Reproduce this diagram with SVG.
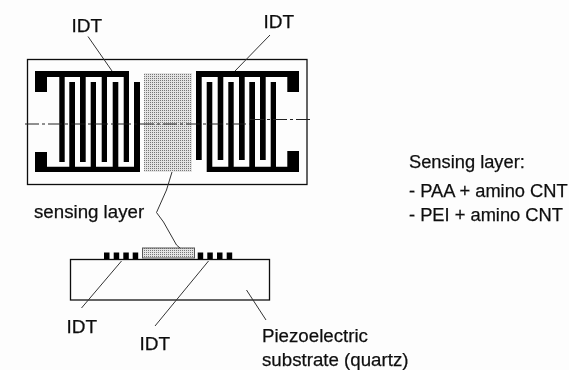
<svg xmlns="http://www.w3.org/2000/svg" width="569" height="370" viewBox="0 0 569 370">
<style>
text{font-family:"Liberation Sans",Arial,sans-serif;fill:#111;stroke:#111;stroke-width:.25}
.l{font-size:19px}
.m{font-size:18.700px}
.s{font-size:18.300px}
.e{fill:#000}
.o{fill:none;stroke:#111;stroke-width:1.300}
.c{fill:none;stroke:#333;stroke-width:1}
.d{fill:none;stroke:#222;stroke-width:1;stroke-dasharray:14 3 3 3}
</style>
<defs>
<pattern id="dots" width="2" height="2" patternUnits="userSpaceOnUse"><rect width="2" height="2" fill="#e4e4e4"/><rect width="1" height="1" fill="#777"/></pattern>
<filter id="soft" x="0" y="0" width="1" height="1"><feGaussianBlur stdDeviation="0.35"/></filter>
</defs>
<rect width="569" height="370" fill="#fdfdfd"/>
<g filter="url(#soft)">
<g id="chip-top"><rect class="o" x="27.500" y="59.500" width="279.500" height="125"/></g>
<g id="sensing-area"><rect x="144" y="73" width="48" height="99" fill="url(#dots)"/></g>
<g id="idt-left">
<path class="e" d="M35 71H129V162H123.700V77H107V162H101.700V77H85.700V162H80V77H64.700V162H59.300V77H47V92H35Z"/>
<path class="e" d="M35 152H47V166.700H69.300V82H75V166.700H90.700V82H96V166.700H112.700V82H118.300V166.700H134V82H140V172H35Z"/>
</g>
<g id="idt-right">
<path class="e" d="M196 71H299V92H287.300V77H265.700V160H260V77H244.700V160H239V77H223.300V160H217.700V77H201.700V160H196Z"/>
<path class="e" d="M206.700 82H212.300V166.700H228.300V82H233.700V166.700H249.300V82H255V166.700H270.700V82H276V166.700H287.300V151H299V172H206.700Z"/>
</g>
<g id="substrate"><rect class="o" x="70.500" y="259.500" width="199" height="40.500" fill="#fdfdfd"/></g>
<g id="side-idt-left">
<rect class="e" x="104" y="252.500" width="5.500" height="7"/><rect class="e" x="113.700" y="252.500" width="5.500" height="7"/><rect class="e" x="123.300" y="252.500" width="5.500" height="7"/><rect class="e" x="132.700" y="252.500" width="5.500" height="7"/>
</g>
<g id="side-idt-right">
<rect class="e" x="197.700" y="252.500" width="5.500" height="7"/><rect class="e" x="207.300" y="252.500" width="5.500" height="7"/><rect class="e" x="217" y="252.500" width="5.500" height="7"/><rect class="e" x="226.700" y="252.500" width="5.500" height="7"/>
</g>
<g id="side-sensing"><rect x="142.500" y="248" width="52" height="10" fill="url(#dots)" stroke="#555" stroke-width="1"/></g>
<g id="connectors">
<path class="d" d="M25 124H250"/>
<path class="d" d="M250 119.500H310"/>
<path class="c" d="M88 36.500L112 71"/>
<path class="c" d="M270 35L235 71"/>
<path class="c" d="M172 172L166.500 190L156.500 212.500L163.500 222L176.500 245L180 248"/>
<path class="c" d="M121.500 261L81.500 308"/>
<path class="c" d="M208.500 261L155 326"/>
<path class="c" d="M246.500 290L266 320"/>
</g>
<g id="labels">
<text class="l" x="71.500" y="32">IDT</text>
<text class="l" x="263.500" y="28">IDT</text>
<text class="m" x="34" y="218">sensing layer</text>
<text class="l" x="66.500" y="333">IDT</text>
<text class="l" x="139.500" y="350">IDT</text>
<text class="m" x="262" y="342">Piezoelectric</text>
<text class="m" x="262" y="366">substrate (quartz)</text>
<text class="s" x="409" y="168">Sensing layer:</text>
<text class="s" x="409" y="197">- PAA + amino CNT</text>
<text class="s" x="409" y="221">- PEI + amino CNT</text>
</g>
</g>
</svg>
